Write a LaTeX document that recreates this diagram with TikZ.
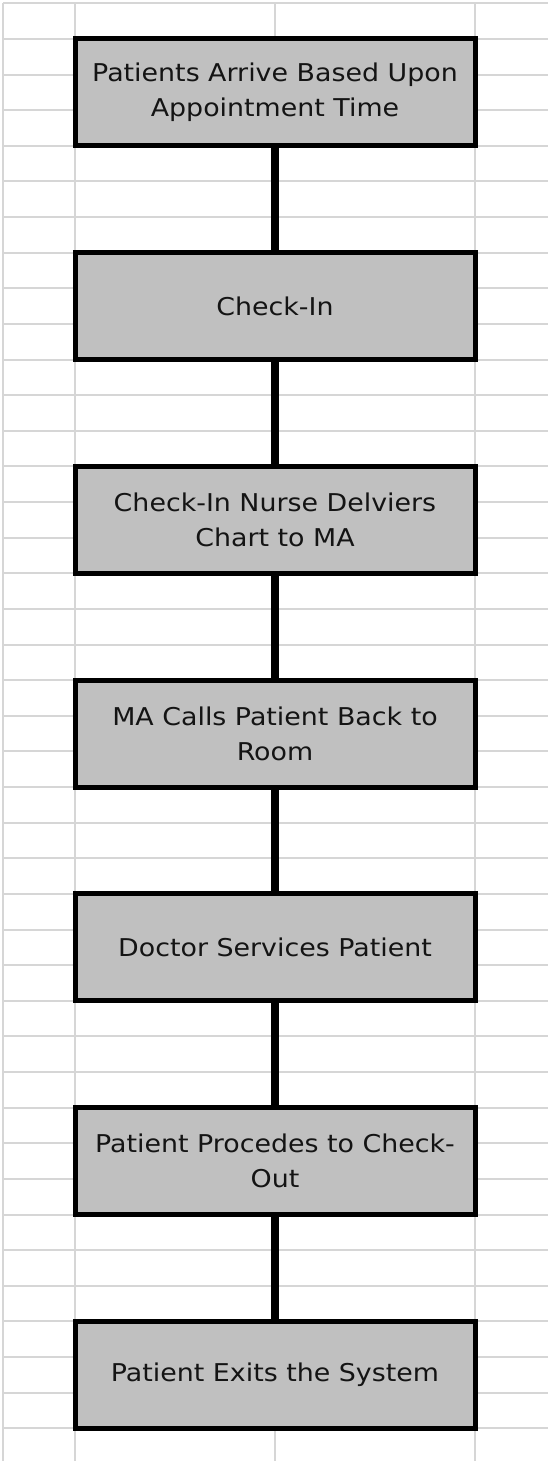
\documentclass[tikz,border=0pt]{standalone}
\usepackage{fontspec}
\setmainfont{DejaVu Sans}[FakeStretch=1.096]
\definecolor{gridgray}{RGB}{214,214,214}
\definecolor{boxgray}{RGB}{192,192,192}
\definecolor{txt}{RGB}{20,20,20}
\begin{document}
\begin{tikzpicture}[x=1pt,y=-1pt,
  gridline/.style={draw=gridgray, line width=2pt},
  stepbox/.style={draw=black, fill=boxgray, line width=5pt, minimum width=400pt,
    minimum height=106.875pt, inner sep=0pt, align=center, text=txt,
    font=\fontsize{24.5}{35}\selectfont},
  conn/.style={draw=black, line width=7.5pt}]
\useasboundingbox (0,0) rectangle (548,1461);
\fill[white] (0,0) rectangle (548,1461);
\foreach \k in {0,...,40}{
  \pgfmathsetmacro{\yy}{3.3+35.625*\k}
  \draw[gridline] (3,\yy) -- (548,\yy);
}
\foreach \xx in {3,75,275,475}{
  \draw[gridline] (\xx,3) -- (\xx,1461);
}
\node[stepbox] (b1) at (275,{3.3+35.625*2.5})  {Patients Arrive Based Upon\\Appointment Time};
\node[stepbox] (b2) at (275,{3.3+35.625*8.5})  {Check-In};
\node[stepbox] (b3) at (275,{3.3+35.625*14.5}) {Check-In Nurse Delviers\\Chart to MA};
\node[stepbox] (b4) at (275,{3.3+35.625*20.5}) {MA Calls Patient Back to\\Room};
\node[stepbox] (b5) at (275,{3.3+35.625*26.5}) {Doctor Services Patient};
\node[stepbox] (b6) at (275,{3.3+35.625*32.5}) {Patient Procedes to Check-\\Out};
\node[stepbox] (b7) at (275,{3.3+35.625*38.5}) {Patient Exits the System};
\draw[conn] (b1.south) -- (b2.north);
\draw[conn] (b2.south) -- (b3.north);
\draw[conn] (b3.south) -- (b4.north);
\draw[conn] (b4.south) -- (b5.north);
\draw[conn] (b5.south) -- (b6.north);
\draw[conn] (b6.south) -- (b7.north);
\end{tikzpicture}
\end{document}
